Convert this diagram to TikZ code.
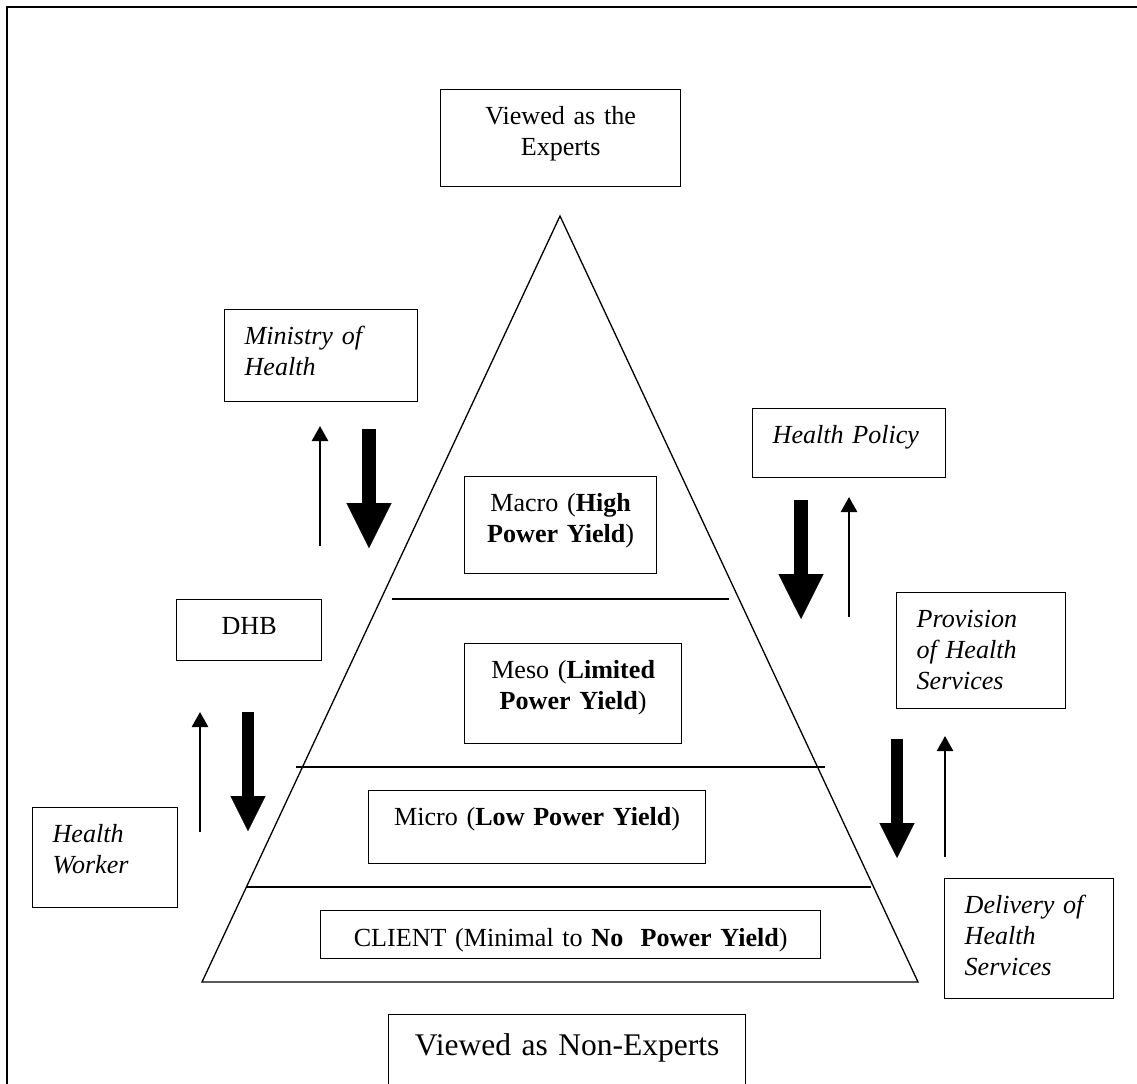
\documentclass[tikz,border=0pt]{standalone}
\usepackage{fontspec}
\setmainfont{Liberation Serif}
\usepackage{tikz}
\usetikzlibrary{arrows.meta}

\begin{document}
\begin{tikzpicture}[x=0.46pt,y=-0.46pt]
\tikzstyle{boxi}=[rectangle,draw,line width=0.6pt,anchor=north west,inner ysep=0pt,inner xsep=9.2pt,text height=15.8pt,align=center,font=\fontsize{12}{14.4}\selectfont]
\tikzstyle{boxit}=[boxi,align=left,font=\fontsize{12}{14.4}\selectfont\itshape]
\tikzstyle{pyr}=[line width=0.6pt]
\tikzstyle{thinup}=[line width=1.1pt,-{Triangle[width=7.4pt,length=6.9pt]}]
\tikzstyle{bigdown}=[line width=6.7pt,-{Triangle[width=20.7pt,length=20.7pt,line width=0.1pt]}]
\tikzstyle{smalldown}=[line width=5.5pt,-{Triangle[width=16.1pt,length=16.1pt,line width=0.1pt]}]
\useasboundingbox (0,0) rectangle (1137,1083);
\clip (0,0) rectangle (1137,1083);
% frame
\draw [line width=0.9pt] (7,1100) -- (7,7) -- (1150,7);
% pyramid
\draw [pyr] (560,216) -- (918,982) -- (202,982) -- cycle;
\draw [pyr] (392,599) -- (729,599);
\draw [pyr] (296,767) -- (825,767);
\draw [pyr] (247,887) -- (871,887);
% boxes
\node [boxi,text width=92pt,text depth=28.8pt] (expt) at (440,89) {Viewed as the\\Experts};
\node [boxit,text width=70.4pt,text depth=26.5pt] (mini) at (224,309) {Ministry of\\Health};
\node [boxit,text width=70.4pt,text depth=15.9pt] (poli) at (752,408) {Health Policy};
\node [boxi,text width=48.3pt,text depth=12.3pt] (dhb) at (176,599) {DHB};
\node [boxit,text width=48.3pt,text depth=30.2pt] (work) at (32,807) {Health\\Worker};
\node [boxit,text width=59.3pt,text depth=37.6pt] (prov) at (896,592) {Provision\\of Health\\Services};
\node [boxit,text width=59.3pt,text depth=39.4pt] (deli) at (944,878) {Delivery of\\Health\\Services};
\node [boxi,text width=69.9pt,text depth=28.8pt] (macr) at (464,476) {Macro (\textbf{High}\\\textbf{Power Yield})};
\node [boxi,text width=81.4pt,text depth=30.2pt] (meso) at (464,643) {Meso (\textbf{Limited}\\\textbf{Power Yield})};
\node [boxi,text width=136.6pt,text depth=17.8pt] (micr) at (368,790) {Micro (\textbf{Low Power Yield})};
\node [boxi,text width=211.6pt,text height=16.6pt,text depth=5.5pt] (clie) at (320,910) {CLIENT (Minimal to \textbf{No\ \ Power Yield})};
\node [boxi,text width=145.8pt,text height=18.9pt,text depth=30pt,font=\fontsize{14.5}{17}\selectfont] (nonx) at (388,1014) {Viewed as Non-Experts};
% arrows
\coordinate (mu1) at (320,546); \coordinate (mu2) at (320,426);
\coordinate (md1) at (369,429); \coordinate (md2) at (369,548);
\coordinate (pd1) at (801,500); \coordinate (pd2) at (801,619);
\coordinate (pu1) at (849,617); \coordinate (pu2) at (849,497);
\coordinate (du1) at (200,832); \coordinate (du2) at (200,712);
\coordinate (dd1) at (248,712); \coordinate (dd2) at (248,831);
\coordinate (vd1) at (897,739); \coordinate (vd2) at (897,858);
\coordinate (vu1) at (945,857); \coordinate (vu2) at (945,736);
\draw [thinup] (mu1) -- (mu2);
\draw [bigdown] (md1) -- (md2);
\draw [bigdown] (pd1) -- (pd2);
\draw [thinup] (pu1) -- (pu2);
\draw [thinup] (du1) -- (du2);
\draw [smalldown] (dd1) -- (dd2);
\draw [smalldown] (vd1) -- (vd2);
\draw [thinup] (vu1) -- (vu2);
\end{tikzpicture}
\end{document}
